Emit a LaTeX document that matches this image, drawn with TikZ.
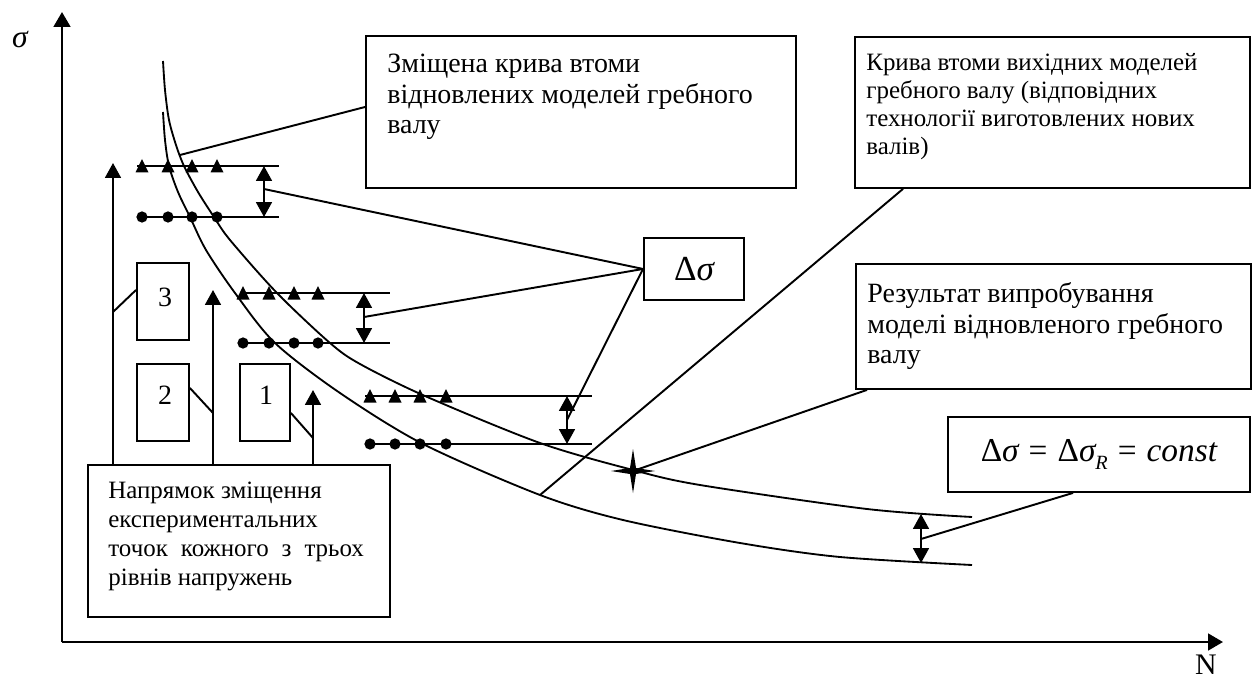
\documentclass[tikz,border=0pt]{standalone}
\usepackage{fontspec}
\setmainfont{Liberation Serif}
\usetikzlibrary{arrows.meta,calc}
\newcommand\fsA{\fontsize{15.9pt}{17.6pt}\selectfont}
\newcommand\fsB{\fontsize{14.2pt}{16.4pt}\selectfont}
\newcommand\fsC{\fontsize{19pt}{21pt}\selectfont}
\newcommand\fsD{\fontsize{20pt}{22pt}\selectfont}
\begin{document}
\begin{tikzpicture}[x=0.02cm,y=-0.02cm,
  box/.style={draw, line width=1.1pt, inner sep=0pt, anchor=north west},
  lbl/.style={anchor=base west, inner sep=0pt, font=\fsA},
  lblB/.style={anchor=base west, inner sep=0pt, font=\fsB},
  digit/.style={inner sep=0pt, font=\fsA},
  lead/.style={line width=1.1pt},
  rowline/.style={line width=1.1pt},
  curve/.style={line width=1.05pt},
  axis/.style={line width=1.4pt, -{Triangle[width=9.5pt,length=8.5pt]}},
  uparr/.style={line width=1.3pt, -{Triangle[width=9pt,length=8.5pt]}},
  dblarr/.style={line width=1.3pt, {Triangle[width=9pt,length=8.5pt]}-{Triangle[width=9pt,length=8.5pt]}},
  mtri/.pic={\fill (-6.5,6.5) -- (0,-7) -- (6.5,6.5) -- cycle;},
  mdot/.pic={\fill (0,0) circle[radius=3.2pt];},
  mstar/.pic={\fill (-22,0) -- (-3,-3) -- (0,-22) -- (3,-3) -- (22,0) -- (3,3) -- (0,22) -- (-3,3) -- cycle;}
]
\useasboundingbox (0,0) rectangle (1257,682);

% axes
\coordinate (O) at (62,642);
\coordinate (Ytip) at (62,12);
\coordinate (Xtip) at (1223,642);
\draw[axis] (O) -- (Ytip);
\draw[axis] (O) -- (Xtip);
\node[inner sep=0pt, font=\fontsize{18pt}{20pt}\selectfont] (sig) at (20,40) {\itshape σ};
\node[inner sep=0pt, font=\fontsize{17pt}{20pt}\selectfont] (Nlab) at (1206,665) {N};

% curves
\draw[curve] plot[smooth] coordinates {(163,61) (165,90) (169,120) (176,145) (184,166) (198,192) (214,217) (230,240) (277,293) (330,343) (360,364) (425,396) (540,443) (633,470) (700,485) (867,509) (972,517)};
\draw[curve] plot[smooth] coordinates {(163,112) (165,140) (169,166) (178,192) (190,217) (206,250) (235,293) (275,343) (340,393) (423,444) (540,495) (623,520) (740,543) (840,557) (972,565)};
\coordinate (oc1) at (180,155);
\coordinate (ic1) at (540,495);
\coordinate (st) at (633,471);

% data rows
\draw[rowline] (137,166) -- (279,166);
\draw[rowline] (137,217) -- (279,217);
\foreach \x in {142,168,192,217} {\pic at (\x,166) {mtri}; \pic at (\x,217) {mdot};}
\draw[rowline] (240,293) -- (390,293);
\draw[rowline] (240,343) -- (390,343);
\foreach \x in {243,269,294,318} {\pic at (\x,293) {mtri}; \pic at (\x,343) {mdot};}
\draw[rowline] (365,396) -- (592,396);
\draw[rowline] (365,444) -- (592,444);
\foreach \x in {370,395,420,446} {\pic at (\x,396) {mtri}; \pic at (\x,444) {mdot};}

% double arrows
\draw[dblarr] (264,166) -- (264,217);
\draw[dblarr] (364,293) -- (364,343);
\draw[dblarr] (567,396) -- (567,444);
\draw[dblarr] (921,514) -- (921,563);
\coordinate (d1) at (264,189);
\coordinate (d2) at (364,317);
\coordinate (d3) at (567,420);
\coordinate (d4) at (921,539);

% star
\pic at (st) {mstar};

% boxes
\node[box, minimum width=8.6cm, minimum height=3.04cm] (B1) at (365,35) {};
\node[box, minimum width=7.9cm, minimum height=3.02cm] (B2) at (854,36) {};
\node[box, minimum width=7.9cm, minimum height=2.5cm] (B3) at (855,263) {};
\node[box, minimum width=2.0cm, minimum height=1.24cm, font=\fsD] (B4) at (643,237) {Δ{\itshape σ}};
\node[box, minimum width=6.04cm, minimum height=1.5cm, font=\fsC] (B5) at (947,416) {Δ{\itshape σ}\hspace{0.3em}=\hspace{0.3em}Δ{\itshape σ}\raisebox{-5pt}{\fontsize{11.5pt}{12pt}\selectfont\itshape R}\hspace{0.3em}=\hspace{0.3em}{\itshape const}};
\node[box, minimum width=6.04cm, minimum height=3.04cm] (B6) at (87,464) {};
\node[box, minimum width=1.04cm, minimum height=1.54cm] (N3) at (136,262) {};
\node[box, minimum width=1.04cm, minimum height=1.54cm] (N2) at (136,363) {};
\node[box, minimum width=1.0cm, minimum height=1.54cm] (N1) at (239,363) {};
\node[digit] (n3t) at (165,297) {3};
\node[digit] (n2t) at (165,395) {2};
\node[digit] (n1t) at (266,395) {1};

% box texts
\node[lbl] (b1a) at (387,73) {Зміщена крива втоми};
\node[lbl] (b1b) at (387,104) {відновлених моделей гребного};
\node[lbl] (b1c) at (387,134) {валу};
\node[lblB] (b2a) at (866,71) {Крива втоми вихідних моделей};
\node[lblB] (b2b) at (866,99) {гребного валу (відповідних};
\node[lblB] (b2c) at (866,127) {технології виготовлених нових};
\node[lblB] (b2d) at (866,155) {валів)};
\node[lbl] (b3a) at (867,302) {Результат випробування};
\node[lbl] (b3b) at (867,333) {моделі відновленого гребного};
\node[lbl] (b3c) at (867,363) {валу};
\node[lblB] (b6a) at (108,498) {Напрямок зміщення};
\node[lblB] (b6b) at (108,527) {експериментальних};
\node[lblB] (b6c) at (108,556) {точок\hspace{0.52em}кожного\hspace{0.52em}з\hspace{0.52em}трьох};
\node[lblB] (b6d) at (108,585) {рівнів напружень};

% upward arrows from B6
\coordinate (a3) at (113,163);
\coordinate (a2) at (213,290);
\coordinate (a1) at (313,390);
\draw[uparr] (B6.north west -| a3) -- (a3);
\draw[uparr] (B6.north west -| a2) -- (a2);
\draw[uparr] (B6.north west -| a1) -- (a1);
\coordinate (a3m) at (113,312);
\coordinate (a2m) at (213,413);
\coordinate (a1m) at (313,438);

% leaders
\draw[lead] ($(B1.north west)+(0,72)$) -- (oc1);
\draw[lead] (d1) -- (B4.west);
\draw[lead] (d2) -- (B4.west);
\draw[lead] (d3) -- (B4.west);
\draw[lead] ($(B2.south west)+(49,0)$) -- (ic1);
\draw[lead] ($(B3.south west)+(12,0)$) -- (st);
\draw[lead] ($(B5.south west)+(126,0)$) -- (d4);
\draw[lead] ($(N3.north west)+(0,28)$) -- (a3m);
\draw[lead] ($(N2.north east)+(0,25)$) -- (a2m);
\draw[lead] ($(N1.north east)+(0,50)$) -- (a1m);
\end{tikzpicture}
\end{document}
